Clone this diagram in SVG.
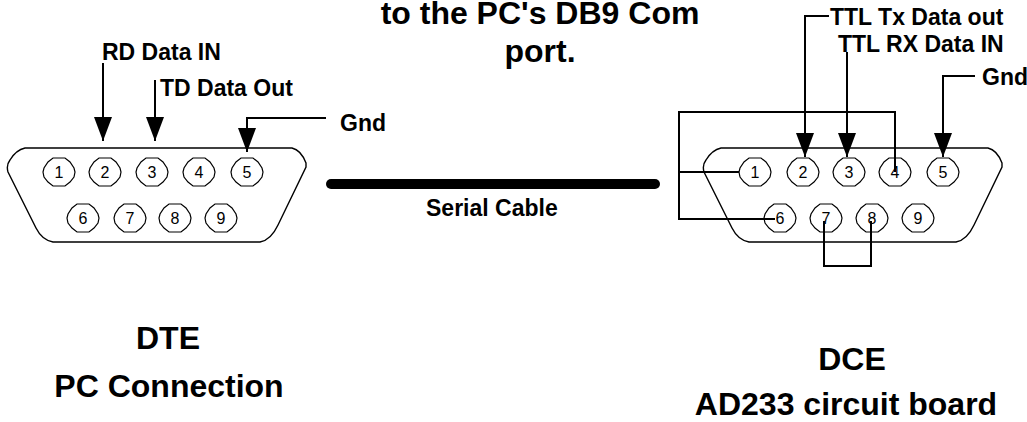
<svg xmlns="http://www.w3.org/2000/svg" width="1027" height="422" viewBox="0 0 1027 422">
<style>
text{font-family:"Liberation Sans",Arial,sans-serif;fill:#000}
.l{font-size:23px;font-weight:700}
.b{font-size:32px;font-weight:700;text-anchor:middle}
.d{font-size:16px;text-anchor:middle}
.w{fill:none;stroke:#000;stroke-width:2}
.s{fill:none;stroke:#000;stroke-width:1.4}
.p{fill:#fff;stroke:#000;stroke-width:1.2}
</style>
<defs>
<path id="shell" class="s" d="M25 148H292Q301 150 306 163L306 167 278 225Q271 240 260 242H53Q42 240 36 228L8 172Q6 165 10 160Q16 150 25 148Z"/>
<polygon id="pin" class="p" points="-6,-14 6,-14 11,-10 15,-4 16,0 15,5 11,10 6,14 -6,14 -11,10 -15,5 -16,0 -15,-4 -11,-10"/>
<marker id="ah" markerUnits="userSpaceOnUse" markerWidth="25" markerHeight="18" refX="24" refY="9" orient="auto"><path d="M0 0L24 9L0 18Z"/></marker>
</defs>
<g id="title">
<text class="b" x="540" y="24">to the PC's DB9 Com</text>
<text class="b" x="540" y="62">port.</text>
</g>
<g id="dte">
<use href="#shell"/>
<g id="dte-pins">
<use href="#pin" x="59" y="172"/><text class="d" x="59" y="178">1</text>
<use href="#pin" x="105" y="172"/><text class="d" x="105" y="178">2</text>
<use href="#pin" x="152" y="172"/><text class="d" x="152" y="178">3</text>
<use href="#pin" x="199" y="172"/><text class="d" x="199" y="178">4</text>
<use href="#pin" x="247" y="172"/><text class="d" x="247" y="178">5</text>
<use href="#pin" x="83" y="218"/><text class="d" x="83" y="224">6</text>
<use href="#pin" x="130" y="218"/><text class="d" x="130" y="224">7</text>
<use href="#pin" x="175" y="218"/><text class="d" x="175" y="224">8</text>
<use href="#pin" x="221" y="218"/><text class="d" x="221" y="224">9</text>
</g>
<text class="l" x="102" y="60">RD Data IN</text>
<text class="l" x="160" y="96">TD Data Out</text>
<text class="l" x="340" y="131">Gnd</text>
<text class="b" x="168" y="349">DTE</text>
<text class="b" x="169" y="397">PC Connection</text>
</g>
<g id="dce">
<use href="#shell" x="696"/>
<g id="dce-pins">
<use href="#pin" x="755" y="172"/><text class="d" x="755" y="178">1</text>
<use href="#pin" x="803" y="172"/><text class="d" x="803" y="178">2</text>
<use href="#pin" x="849" y="172"/><text class="d" x="849" y="178">3</text>
<use href="#pin" x="895" y="172"/><text class="d" x="895" y="178">4</text>
<use href="#pin" x="943" y="172"/><text class="d" x="943" y="178">5</text>
<use href="#pin" x="780" y="218"/><text class="d" x="780" y="224">6</text>
<use href="#pin" x="826" y="218"/><text class="d" x="826" y="224">7</text>
<use href="#pin" x="872" y="218"/><text class="d" x="872" y="224">8</text>
<use href="#pin" x="918" y="218"/><text class="d" x="918" y="224">9</text>
</g>
<text class="l" x="830" y="25">TTL Tx Data out</text>
<text class="l" x="838" y="52">TTL RX Data IN</text>
<text class="l" x="982" y="85">Gnd</text>
<text class="b" x="852" y="370">DCE</text>
<text class="b" x="846" y="415">AD233 circuit board</text>
</g>
<g id="cable">
<line x1="331" y1="184" x2="655" y2="184" stroke="#000" stroke-width="10" stroke-linecap="round"/>
<text class="l" x="426" y="216">Serial Cable</text>
</g>
<g id="connectors">
<path class="w" marker-end="url(#ah)" d="M103 63V141"/>
<path class="w" marker-end="url(#ah)" d="M155 80V141"/>
<path class="w" marker-end="url(#ah)" d="M326 118H247V152"/>
<path class="w" marker-end="url(#ah)" d="M829 16H805V157"/>
<path class="w" marker-end="url(#ah)" d="M847 52V157"/>
<path class="w" marker-end="url(#ah)" d="M975 76H943V157"/>
<path class="w" d="M895 172V112H679V219H775"/>
<path class="w" d="M679 172H739"/>
<path class="w" d="M824 221V266H871V221"/>
</g>
</svg>
